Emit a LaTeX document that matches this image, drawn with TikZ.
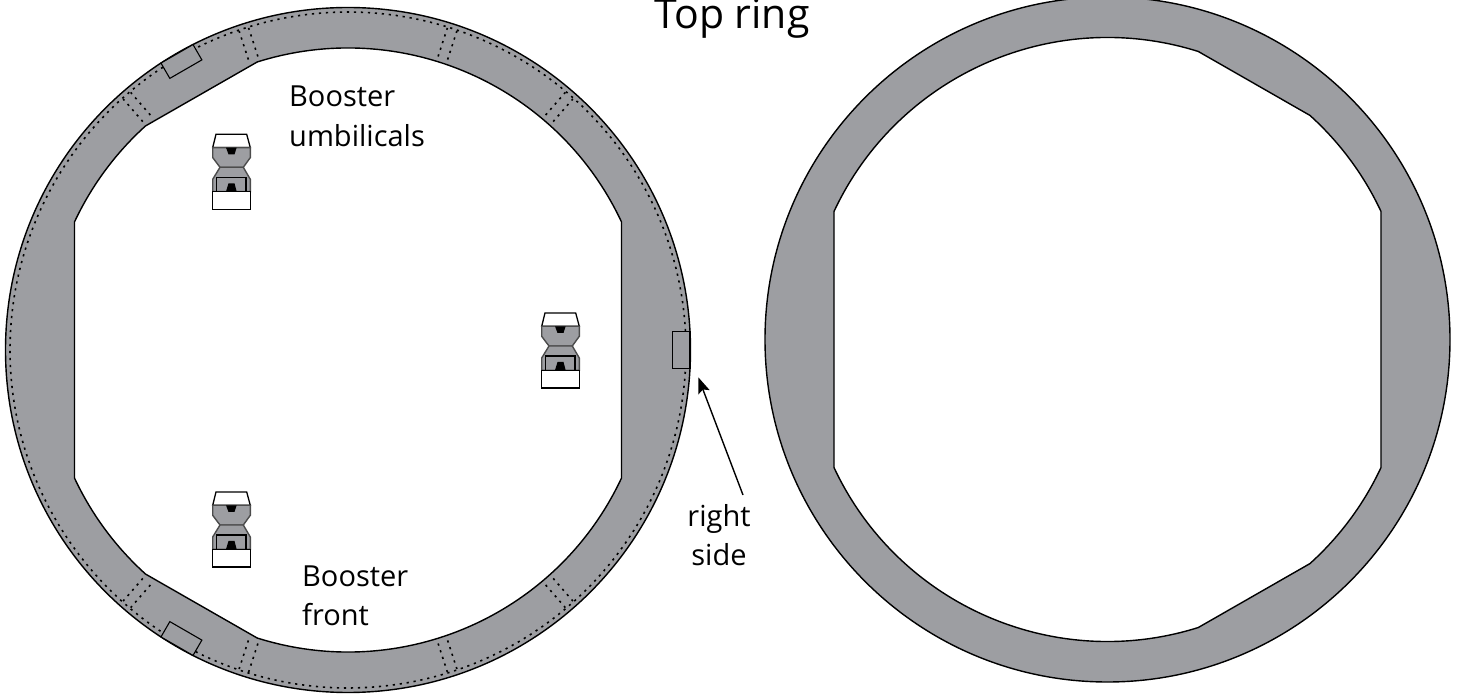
\documentclass[tikz,border=0pt]{standalone}
\usepackage{fontspec}
\setmainfont{Open Sans}
\usetikzlibrary{calc,arrows.meta}
\definecolor{ringgray}{RGB}{157,158,162}
\tikzset{
  ringfill/.style={fill=ringgray,draw=black,line width=1.4pt,even odd rule,line join=round},
  dotline/.style={draw=black,line width=1.6pt,dash pattern=on 2.2pt off 4.8pt},
  labeltext/.style={font=\fontsize{29}{40}\selectfont,align=left,inner sep=0pt,text=black},
  pics/hourglass/.style={code={
    \draw[fill=white,line width=1.3pt] (-15.5,0)--(15.2,0)--(18.8,-13.3)--(-18.8,-13.3)--cycle;
    \draw[fill=ringgray,draw=black!70,line width=1.4pt] (-18.8,-13.3)--(18.8,-13.3)--(18.8,-23.3)--(11.8,-33)--(-11.5,-33)--(-18.8,-23.3)--cycle;
    \fill[black] (-5.5,-13.3)--(5.2,-13.3)--(3,-20)--(-3,-20)--cycle;
    \draw[fill=ringgray,draw=black!70,line width=1.4pt] (-11.5,-33)--(11.8,-33)--(18.8,-45)--(18.8,-57.3)--(-18.8,-57.3)--(-18.8,-45)--cycle;
    \draw[line width=1.1pt] (-14.8,-57.3)--(-14.8,-43)--(14.5,-43)--(14.5,-57.3);
    \fill[black] (-3,-49)--(3,-49)--(5.2,-57.3)--(-5.5,-57.3)--cycle;
    \draw[fill=white,line width=1.3pt] (-18.8,-57.3) rectangle (18.8,-75);
  }}
}
\newcommand{\portbox}[1]{%
  \draw[rotate around={#1:(L)},line width=1.1pt,fill=ringgray,draw=black]
    ($(L)+(324.3,-18.5)$) rectangle ($(L)+(342,18.5)$);}
\newcommand{\portpair}[1]{%
  \draw[dotline,rotate around={#1:(L)}] ($(L)+(307,-5)$) -- ($(L)+(337,-5)$);
  \draw[dotline,rotate around={#1:(L)}] ($(L)+(307,5)$) -- ($(L)+(337,5)$);}
\begin{document}
\begin{tikzpicture}[x=1pt,y=1pt]
\useasboundingbox (0,0) rectangle (1460,694);
\coordinate (L) at (348,344);
\coordinate (R) at (1107.5,354.5);
% left ring
\path[ringfill] (L) circle[radius=342.5]
  ($(L)+(25.1:302)$) arc[start angle=25.1,end angle=107.5,radius=302]
  -- ($(L)+(132.1:302)$) arc[start angle=132.1,end angle=154.9,radius=302]
  -- ($(L)+(205.1:302)$) arc[start angle=205.1,end angle=227.9,radius=302]
  -- ($(L)+(252.5:302)$) arc[start angle=252.5,end angle=334.9,radius=302]
  -- cycle;
% right ring
\path[ringfill] (R) circle[radius=342.5]
  ($(R)+(72.5:302)$) arc[start angle=72.5,end angle=154.9,radius=302]
  -- ($(R)+(205.1:302)$) arc[start angle=205.1,end angle=287.5,radius=302]
  -- ($(R)+(312.1:302)$) arc[start angle=312.1,end angle=334.9,radius=302]
  -- ($(R)+(25.1:302)$) arc[start angle=25.1,end angle=47.9,radius=302]
  -- cycle;
% dotted ring
\draw[dotline] ($(L)+(3.2:338)$) arc[start angle=3.2,end angle=116.8,radius=338];
\draw[dotline] ($(L)+(123.2:338)$) arc[start angle=123.2,end angle=236.8,radius=338];
\draw[dotline] ($(L)+(243.2:338)$) arc[start angle=243.2,end angle=356.8,radius=338];
\portpair{49}\portpair{72}\portpair{108}\portpair{131}
\portpair{-49}\portpair{-72}\portpair{-108}\portpair{-131}
\portbox{0}\portbox{120}\portbox{-120}
% hourglasses
\pic (hgA) at (231.5,559.7) {hourglass};
\pic (hgB) at (231.5,202) {hourglass};
\pic (hgC) at (560.5,381) {hourglass};
% labels
\node[inner sep=0pt,anchor=base,font=\fontsize{41}{48}\selectfont] (title) at (732,665) {Top ring};
\node[labeltext,anchor=base west] (umb) at (289,547) {Booster\\umbilicals};
\node[labeltext,anchor=base west] (front) at (302,68) {Booster\\front};
\node[labeltext,anchor=base,align=center] (side) at (719,128) {right\\side};
\coordinate (arrowtail) at (743,199);
\coordinate (arrowtip) at (698.3,316.7);
\draw[line width=1.4pt,-{Stealth[length=16pt,width=12pt,inset=3pt]}] (arrowtail) -- (arrowtip);
\end{tikzpicture}
\end{document}
